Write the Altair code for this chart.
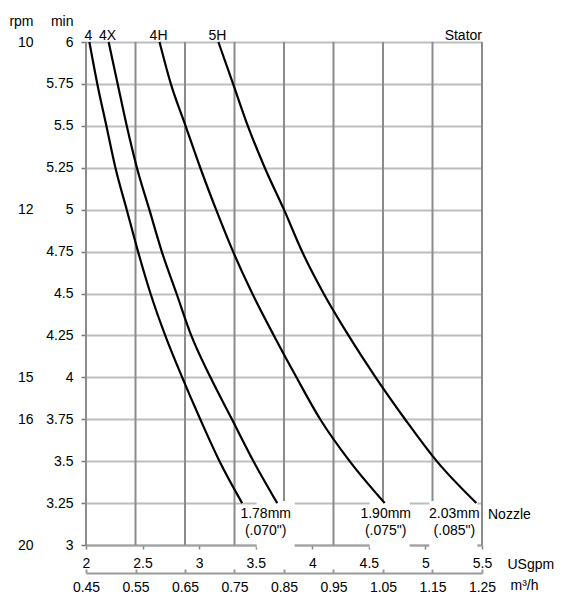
import altair as alt
import pandas as pd

# ---------------- data ----------------
min_ticks = [3.0, 3.25, 3.5, 3.75, 4.0, 4.25, 4.5, 4.75, 5.0, 5.25, 5.5, 5.75, 6.0]
gpm_ticks = [2, 2.5, 3, 3.5, 4, 4.5, 5, 5.5]
m3h_ticks = [0.45, 0.55, 0.65, 0.75, 0.85, 0.95, 1.05, 1.15, 1.25]
rpm_ticks = [10, 12, 15, 16, 20]

stators = ["4", "4X", "4H", "5H"]
curve_min = [6.0, 5.75, 5.5, 5.25, 5.0, 4.75, 4.5, 4.25, 4.0, 3.75, 3.5, 3.25]
flow_4 = [2.03, 2.10, 2.18, 2.26, 2.36, 2.46, 2.57, 2.70, 2.85, 3.01, 3.18, 3.38]
flow_4x = [2.20, 2.28, 2.36, 2.45, 2.56, 2.67, 2.80, 2.93, 3.10, 3.29, 3.48, 3.69]
flow_4h = [2.65, 2.75, 2.88, 3.01, 3.15, 3.30, 3.47, 3.66, 3.86, 4.07, 4.33, 4.64]
flow_5h = [3.17, 3.30, 3.43, 3.58, 3.75, 3.91, 4.10, 4.32, 4.56, 4.82, 5.10, 5.45]
flows = [flow_4, flow_4x, flow_4h, flow_5h]

nozzle_mm = ["1.78mm", "1.90mm", "2.03mm"]
nozzle_in = ['(.070")', '(.075")', '(.085")']

# ---------------- layout / style ----------------
W, H = 396, 503
x_domain = [2, 5.5]
y_domain = [3, 6]
m3h_domain = [0.45, 1.25]
FONT = "Liberation Sans"
FS = 14

xs = alt.Scale(domain=x_domain, nice=False, zero=False, padding=0)
ys = alt.Scale(domain=y_domain, nice=False, zero=False, padding=0)


def m3h_to_gpm(v):
    # the two bottom scales share the same pixel span
    return x_domain[0] + (v - m3h_domain[0]) / (m3h_domain[1] - m3h_domain[0]) * (x_domain[1] - x_domain[0])


# ---------------- layer A: grid, curves, labels ----------------
vgrid_df = pd.DataFrame({"gpm": [m3h_to_gpm(v) for v in m3h_ticks]})
vgrid_df["min"] = y_domain[0]
vgrid_df["min2"] = y_domain[1]
vgrid = alt.Chart(vgrid_df).mark_rule(color="#8c8c8c", strokeWidth=2).encode(
    x=alt.X("gpm:Q", scale=xs), y=alt.Y("min:Q", scale=ys), y2="min2:Q",
)

rows = []
for s, f in zip(stators, flows):
    for m, g in zip(curve_min, f):
        rows.append({"stator": s, "min": m, "gpm": g})
curves_df = pd.DataFrame(rows)

x_enc = alt.X(
    "gpm:Q", scale=xs,
    axis=alt.Axis(
        orient="bottom", values=gpm_ticks, labelExpr="toString(datum.value)", grid=False,
        domainColor="#a0a0a0", domainWidth=2, tickColor="#888888", tickWidth=1.5,
        tickSize=4, labelPadding=7, labelFlush=False, labelOverlap=False,
        title="USgpm", titleAngle=0, titleAlign="left", titleBaseline="alphabetic",
        titleX=421, titleY=23,
    ),
)
y_enc = alt.Y(
    "min:Q", scale=ys,
    axis=alt.Axis(
        orient="left", values=min_ticks, labelExpr="toString(datum.value)",
        grid=True, gridColor="#bebebe", gridWidth=2, gridOpacity=1,
        domain=False, tickColor="#777777", tickWidth=1.5, tickSize=5, labelPadding=8,
        labelFlush=False, labelOverlap=False,
        title="min", titleAngle=0, titleAlign="right", titleBaseline="alphabetic",
        titleX=-13, titleY=-17,
    ),
)

end_min = curve_min[-1]
anchors = [(flow_4[-1] + flow_4x[-1]) / 2, flow_4h[-1], flow_5h[-1]]
text_dx = [6, 1, -22]
box_dx = [16, 5, -23]
box_w = [38, 40, 48]

boxes = []
for a, bdx, bw in zip(anchors, box_dx, box_w):
    boxes.append(
        alt.Chart(pd.DataFrame({"gpm": [a], "min": [end_min], "min2": [y_domain[0]]}))
        .mark_bar(color="white", width=bw, xOffset=bdx, yOffset=-2, y2Offset=3)
        .encode(x=alt.X("gpm:Q", scale=xs), y=alt.Y("min:Q", scale=ys), y2="min2:Q")
    )

lines = alt.Chart(curves_df).mark_line(
    color="black", strokeWidth=2.2, interpolate="monotone"
).encode(x=x_enc, y=y_enc, detail="stator:N")

start_df = pd.DataFrame({"stator": stators, "gpm": [f[0] for f in flows], "min": [curve_min[0]] * 4})
curve_labels = alt.Chart(start_df).mark_text(
    baseline="alphabetic", align="center", dy=-2, dx=-1, fontSize=FS, color="black"
).encode(x=alt.X("gpm:Q", scale=xs), y=alt.Y("min:Q", scale=ys), text="stator:N")

stator_lbl = alt.Chart(pd.DataFrame({"t": ["Stator"], "gpm": [x_domain[1]], "min": [y_domain[1]]})).mark_text(
    baseline="alphabetic", align="right", dy=-2, fontSize=FS, color="black"
).encode(x=alt.X("gpm:Q", scale=xs), y=alt.Y("min:Q", scale=ys), text="t:N")

nozzle_word = alt.Chart(pd.DataFrame({"t": ["Nozzle"], "gpm": [x_domain[1]], "min": [end_min]})).mark_text(
    baseline="top", align="left", dx=6, dy=5, fontSize=FS, color="black"
).encode(x=alt.X("gpm:Q", scale=xs), y=alt.Y("min:Q", scale=ys), text="t:N")

texts = [curve_labels, stator_lbl, nozzle_word]
for a, dx, mm, inch in zip(anchors, text_dx, nozzle_mm, nozzle_in):
    d = pd.DataFrame({"gpm": [a], "min": [end_min], "mm": [mm], "inch": [inch]})
    base = alt.Chart(d).encode(x=alt.X("gpm:Q", scale=xs), y=alt.Y("min:Q", scale=ys))
    texts.append(base.mark_text(baseline="top", align="center", dx=dx, dy=4,
                                fontSize=FS, color="black").encode(text="mm:N"))
    texts.append(base.mark_text(baseline="top", align="center", dx=dx, dy=21,
                                fontSize=FS, color="black").encode(text="inch:N"))

layer_a = alt.layer(vgrid, *boxes, lines, *texts)

# ---------------- layer B: m3/h axis ----------------
layer_b = alt.Chart(pd.DataFrame({"m3h": m3h_ticks})).mark_rule(opacity=0).encode(
    x=alt.X(
        "m3h:Q",
        scale=alt.Scale(domain=m3h_domain, nice=False, zero=False, padding=0),
        axis=alt.Axis(
            orient="top", offset=-(H + 28), values=m3h_ticks,
            labelExpr="toString(datum.value)", grid=False,
            domainColor="#9a9a9a", domainWidth=2, tickColor="#9a9a9a", tickWidth=2,
            tickSize=4, labelPadding=-22, labelBaseline="alphabetic",
            labelFlush=False, labelOverlap=False,
            title="m³/h", titleAngle=0, titleAlign="left", titleBaseline="alphabetic",
            titleX=424, titleY=16,
        ),
    )
)

# ---------------- layer C: rpm axis ----------------
rpm_min = [60 / r for r in rpm_ticks]
layer_c = alt.Chart(pd.DataFrame({"min": rpm_min})).mark_rule(opacity=0).encode(
    y=alt.Y(
        "min:Q", scale=ys,
        axis=alt.Axis(
            orient="left", offset=50, values=rpm_min,
            labelExpr="toString(round(60 / datum.value))", ticks=False, tickSize=0,
            domain=False, grid=False, labelPadding=3, labelFlush=False, labelOverlap=False,
            title="rpm", titleAngle=0, titleAlign="right", titleBaseline="alphabetic",
            titleX=-3, titleY=-17,
        ),
    )
)

chart = (
    alt.layer(layer_a, layer_b, layer_c)
    .resolve_scale(x="independent", y="independent")
    .properties(
        width=W, height=H, autosize=alt.AutoSizeParams(type="none"),
        padding={"left": 78, "top": 34, "right": 72, "bottom": 48},
    )
    .configure(font=FONT)
    .configure_view(stroke=None)
    .configure_axis(labelFontSize=FS, labelColor="black", titleFontSize=FS,
                    titleColor="black", titleFontWeight="normal", labelFont=FONT, titleFont=FONT)
    .configure_text(font=FONT)
)

chart.save("out.html", embed_options={"renderer": "svg", "actions": False})
